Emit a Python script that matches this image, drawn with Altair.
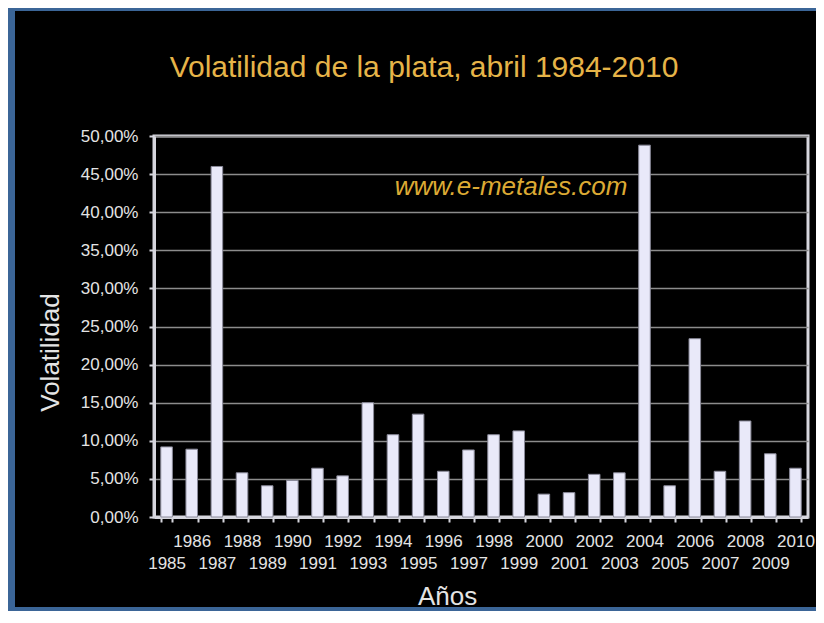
import altair as alt
import pandas as pd

# ---- data ----
years = [str(y) for y in range(1985, 2011)]
volatility_pct = [9.2, 8.9, 46.0, 5.8, 4.1, 4.8, 6.4, 5.4, 15.0, 10.8, 13.5, 6.0, 8.8,
                  10.8, 11.3, 3.0, 3.2, 5.6, 5.8, 48.8, 4.1, 23.4, 6.0, 12.6, 8.3, 6.4]
y_tick_values = [0.0, 0.05, 0.10, 0.15, 0.20, 0.25, 0.30, 0.35, 0.40, 0.45, 0.50]
title_text = ["Volatilidad de la plata, abril 1984-2010"]
watermark_text = ["www.e-metales.com"]

df = pd.DataFrame({"Año": years, "Volatilidad": [v / 100 for v in volatility_pct]})

FONT = "Liberation Sans"
LABEL = "#e4e4e4"
LINE = "#d6d6de"
GOLD = "#e6b448"
BLUE = "#3b6597"

bars = alt.Chart(df).mark_bar(color="#e9e9f9", stroke="#8a8a9a", strokeWidth=1).encode(
    x=alt.X(
        "Año:O",
        scale=alt.Scale(paddingInner=0.54, paddingOuter=0.27),
        axis=alt.Axis(
            title="Años",
            titleX=293, titleY=87, titleAlign="center", titleBaseline="alphabetic",
            titleFontSize=26, titleFont=FONT, titleFontWeight="normal", titleColor=LABEL,
            labelExpr="toNumber(datum.value) % 2 == 0 ? datum.label : ['', datum.label]",
            labelAngle=0, labelFontSize=17, labelFont=FONT, labelColor=LABEL,
            labelPadding=11, labelLineHeight=22, labelOverlap=False,
            tickBand="extent", tickSize=5, tickColor=LINE, tickWidth=2,
            domainColor=LINE, domainWidth=3, grid=False,
        ),
    ),
    y=alt.Y(
        "Volatilidad:Q",
        scale=alt.Scale(domain=[0, 0.5], nice=False),
        axis=alt.Axis(
            values=y_tick_values,
            labelExpr="replace(format(datum.value, '.2%'), '.', ',')",
            labelFontSize=17, labelFont=FONT, labelColor=LABEL, labelPadding=11,
            tickSize=5, tickColor=LINE, tickWidth=2,
            domainColor=LINE, domainWidth=3,
            grid=True, gridColor="#8c8c8c", gridWidth=1.5,
            title="Volatilidad",
            titleX=-96, titleY=216, titleAngle=270, titleAlign="center",
            titleBaseline="alphabetic", titleFontSize=26, titleFont=FONT,
            titleFontWeight="normal", titleColor=LABEL,
        ),
    ),
)

title_layer = alt.Chart(pd.DataFrame({"t": title_text})).mark_text(
    font=FONT, fontSize=30, color=GOLD, align="center", baseline="alphabetic"
).encode(text="t:N", x=alt.value(270), y=alt.value(-59))

watermark_layer = alt.Chart(pd.DataFrame({"t": watermark_text})).mark_text(
    font=FONT, fontSize=26, fontStyle="italic", color="#dcaa34", align="center",
    baseline="alphabetic"
).encode(text="t:N", x=alt.value(357), y=alt.value(59))

deco = pd.DataFrame({"k": [0]})
left_strip = alt.Chart(deco).mark_rect(color=BLUE).encode(
    x=alt.value(-146), x2=alt.value(-139), y=alt.value(-128), y2=alt.value(475))
top_strip = alt.Chart(deco).mark_rect(color=BLUE).encode(
    x=alt.value(-146), x2=alt.value(662), y=alt.value(-128), y2=alt.value(-125))
bottom_strip = alt.Chart(deco).mark_rect(color=BLUE).encode(
    x=alt.value(-146), x2=alt.value(662), y=alt.value(471), y2=alt.value(475))

chart = alt.layer(
    bars, title_layer, watermark_layer, left_strip, top_strip, bottom_strip
).properties(
    width=654,
    height=381,
    padding={"left": 146, "top": 128, "right": 8, "bottom": 94},
    autosize=alt.AutoSizeParams(type="none"),
    background="#000000",
).configure_view(stroke=LINE, strokeWidth=3)

chart.save("out.html", embed_options={"renderer": "svg", "actions": False})
